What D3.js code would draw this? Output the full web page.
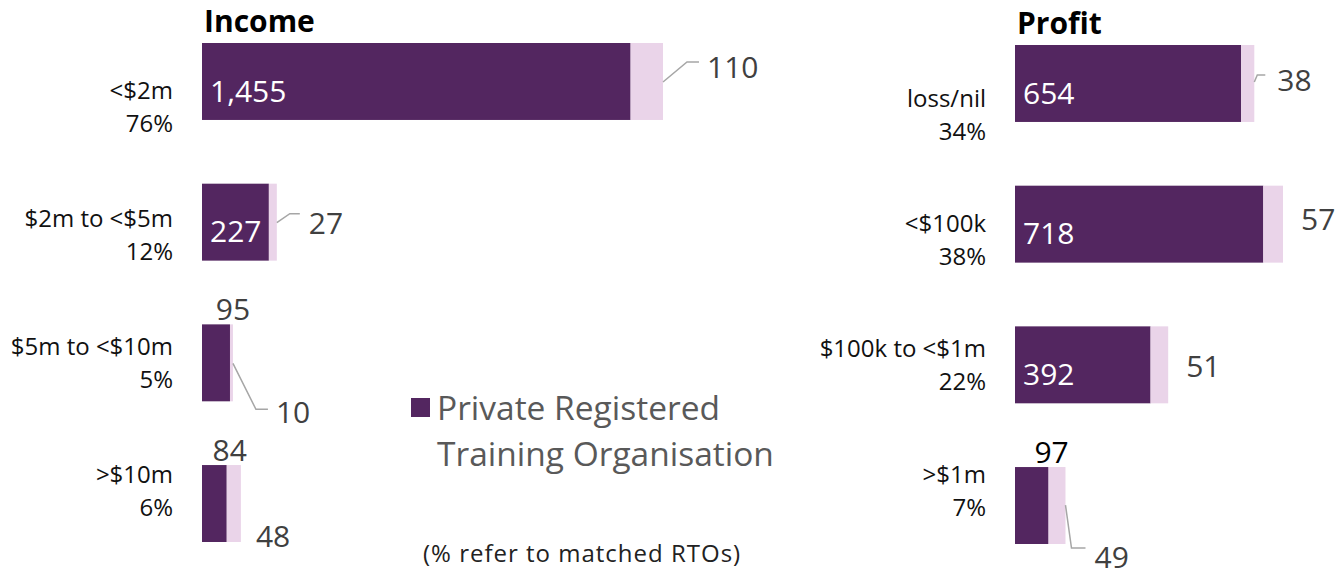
<!DOCTYPE html>
<html>
<head>
<meta charset="utf-8">
<title>Income and Profit</title>
<script src="https://cdn.jsdelivr.net/npm/d3@7"></script>
<style>
  body { margin: 0; background: #fff; }
  svg { display: block; }
  text { font-family: "Open Sans", sans-serif; }
</style>
</head>
<body>
<script>
// income panel
var incomeCats = ["<$2m", "$2m to <$5m", "$5m to <$10m", ">$10m"];
var incomePct = ["76%", "12%", "5%", "6%"];
var incomePrivate = [1455, 227, 95, 84];
var incomeOther = [110, 27, 10, 48];

// profit panel
var profitCats = ["loss/nil", "<$100k", "$100k to <$1m", ">$1m"];
var profitPct = ["34%", "38%", "22%", "7%"];
var profitPrivate = [654, 718, 392, 97];
var profitOther = [38, 57, 51, 49];

var legendLines = ["Private Registered", "Training Organisation"];
var noteText = "(% refer to matched RTOs)";

var W = 1338, H = 577;
var darkCol = "#532660";
var lightCol = "#ead4e9";
var valCol = "#404040";

var svg = d3.select("body").append("svg").attr("width", W).attr("height", H);

// where the labels sit, by bar index (annotation layout, not data)
var incomeLayout = {
  dark: ["inside", "inside", "above", "above"],
  other: [
    {type: "leader", pts: [[0, 39], [24, 19], [36, 19]], tx: 44, ty: 23},
    {type: "leader", pts: [[0, 39], [13, 30], [23, 30]], tx: 32, ty: 39},
    {type: "leader", pts: [[0, 39], [23, 85], [35, 85]], tx: 43, ty: 87},
    {type: "plain", tx: 15, ty: 70}
  ]
};
var profitLayout = {
  dark: ["inside", "inside", "inside", "above"],
  other: [
    {type: "leader", pts: [[0, 37], [3, 30], [11, 30]], tx: 23, ty: 34},
    {type: "plain", tx: 18, ty: 33},
    {type: "plain", tx: 18, ty: 39},
    {type: "leader", pts: [[0, 38], [6, 81], [20, 81]], tx: 29, ty: 89}
  ]
};

function drawPanel(opt) {
  var rows = opt.cats.map(function (c, i) {
    return {cat: c, pct: opt.pct[i], a: opt.priv[i], b: opt.other[i], i: i};
  });

  var x = d3.scaleLinear()
    .domain([0, d3.max(rows, function (d) { return d.a + d.b; })])
    .range([opt.x0, opt.x1]);
  var y = d3.scaleBand()
    .domain(opt.cats)
    .range([opt.y0, opt.y1])
    .paddingInner(0.453)
    .paddingOuter(0);
  var ly = d3.scalePoint()
    .domain(opt.cats)
    .range([opt.l0, opt.l1]);

  var g = svg.append("g");

  g.append("text")
    .attr("x", opt.x0 + 2)
    .attr("y", opt.y0 - 11)
    .attr("font-size", 30)
    .attr("font-weight", "bold")
    .attr("fill", "#000")
    .text(opt.title);

  var row = g.selectAll(".row").data(rows).enter().append("g").attr("class", "row");

  row.append("rect")
    .attr("x", x(0))
    .attr("y", function (d) { return y(d.cat); })
    .attr("width", function (d) { return x(d.a) - x(0); })
    .attr("height", y.bandwidth())
    .attr("fill", darkCol);

  row.append("rect")
    .attr("x", function (d) { return x(d.a); })
    .attr("y", function (d) { return y(d.cat); })
    .attr("width", function (d) { return x(d.a + d.b) - x(d.a); })
    .attr("height", y.bandwidth())
    .attr("fill", lightCol);

  // category labels
  row.append("text")
    .attr("x", opt.x0 - 29)
    .attr("y", function (d) { return ly(d.cat) - 16; })
    .attr("text-anchor", "end")
    .attr("dominant-baseline", "central")
    .attr("font-size", 24)
    .attr("fill", "#111")
    .text(function (d) { return d.cat; });
  row.append("text")
    .attr("x", opt.x0 - 29)
    .attr("y", function (d) { return ly(d.cat) + 17; })
    .attr("text-anchor", "end")
    .attr("dominant-baseline", "central")
    .attr("font-size", 24)
    .attr("fill", "#111")
    .text(function (d) { return d.pct; });

  // private RTO values
  row.append("text")
    .attr("x", function (d) {
      return opt.layout.dark[d.i] == "inside" ? x(0) + 8 : x(d.a) + 3;
    })
    .attr("y", function (d) {
      return opt.layout.dark[d.i] == "inside" ? y(d.cat) + 47 : y(d.cat) - 16;
    })
    .attr("text-anchor", function (d) { return opt.layout.dark[d.i] == "inside" ? "start" : "middle"; })
    .attr("dominant-baseline", "central")
    .attr("font-size", 30)
    .attr("fill", function (d) {
      if (opt.layout.dark[d.i] == "inside") return "#fff";
      return opt.aboveCol;
    })
    .text(function (d) { return d3.format(",")(d.a); });

  // other values
  row.each(function (d) {
    var L = opt.layout.other[d.i];
    var ex = x(d.a + d.b), ey = y(d.cat);
    var sel = d3.select(this);
    if (L.type == "leader") {
      sel.append("path")
        .attr("d", d3.line()(L.pts.map(function (p) { return [ex + p[0], ey + p[1]]; })))
        .attr("fill", "none")
        .attr("stroke", "#a6a6a6")
        .attr("stroke-width", 1.5);
    }
    sel.append("text")
      .attr("x", ex + L.tx)
      .attr("y", ey + L.ty)
      .attr("dominant-baseline", "central")
      .attr("font-size", 30)
      .attr("fill", valCol)
      .text(d3.format(",")(d.b));
  });
}

drawPanel({
  title: "Income", cats: incomeCats, pct: incomePct, priv: incomePrivate, other: incomeOther,
  x0: 202, x1: 663, y0: 43, y1: 542, l0: 105, l1: 489,
  layout: incomeLayout, aboveCol: valCol
});

drawPanel({
  title: "Profit", cats: profitCats, pct: profitPct, priv: profitPrivate, other: profitOther,
  x0: 1015, x1: 1283, y0: 45, y1: 544, l0: 113, l1: 489,
  layout: profitLayout, aboveCol: "#000"
});

// legend
var lg = svg.append("g");
lg.append("rect")
  .attr("x", 411).attr("y", 398)
  .attr("width", 19).attr("height", 19)
  .attr("fill", darkCol);
lg.selectAll("text").data(legendLines).enter().append("text")
  .attr("x", 437)
  .attr("y", function (d, i) { return 407 + i * 46; })
  .attr("dominant-baseline", "central")
  .attr("font-size", 33.5)
  .attr("fill", "#595959")
  .text(function (d) { return d; });

svg.append("text")
  .attr("x", 423)
  .attr("y", 552)
  .attr("dominant-baseline", "central")
  .attr("font-size", 24)
  .attr("letter-spacing", 1)
  .attr("fill", "#222")
  .text(noteText);
</script>
</body>
</html>
